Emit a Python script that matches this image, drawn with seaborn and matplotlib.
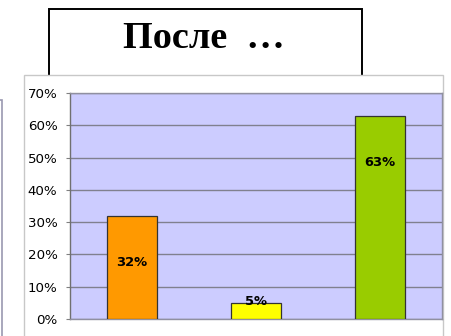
import matplotlib
matplotlib.use("Agg")
import matplotlib.pyplot as plt
from matplotlib.patches import Rectangle
import seaborn as sns
import pandas as pd

# Survey answers after the event, in percent
categories = ["A", "B", "C"]
values = [32, 5, 63]
bar_colors = ["#FF9900", "#FFFF00", "#99CC00"]
y_ticks = [0, 10, 20, 30, 40, 50, 60, 70]
y_tick_labels = [f"{t}%" for t in y_ticks]
title_text = "После  …"

df = pd.DataFrame({"category": categories, "value": values})

sns.set_theme(style="white")
plt.rcParams["font.family"] = ["DejaVu Sans"]
plt.rcParams["text.color"] = "black"

W, H = 452, 336
fig = plt.figure(figsize=(W / 100, H / 100), dpi=100)
fig.patch.set_facecolor("white")


def px_rect(x0, y0, x1, y1, **kw):
    # rectangle in pixel coords (origin top-left) on the figure
    return Rectangle((x0 / W, 1 - y1 / H), (x1 - x0) / W, (y1 - y0) / H,
                     transform=fig.transFigure, **kw)


# title box
fig.add_artist(px_rect(49, 9, 362, 110, facecolor="white", edgecolor="black",
                       linewidth=1.4, zorder=1))
fig.text(204 / W, 1 - 38 / H, title_text, ha="center", va="center",
         fontsize=27.5, fontweight="bold", color="black",
         family=["Liberation Serif", "DejaVu Serif"], zorder=2)

# neighbouring panel edge on the far left
fig.add_artist(px_rect(-20, 100, 2, 400, facecolor="white", edgecolor="#9A98B0",
                       linewidth=1.2, zorder=1))

# chart frame
fig.add_artist(px_rect(24, 75, 443, 400, facecolor="white", edgecolor="#C8C8C8",
                       linewidth=1.0, zorder=3))

ax = fig.add_axes([70 / W, 1 - 319 / H, (442 - 70) / W, (319 - 93) / H], zorder=4)
ax.set_facecolor("#CCCCFF")

sns.barplot(data=df, x="category", y="value", hue="category", palette=bar_colors,
            saturation=1, width=0.41, edgecolor="#333333", linewidth=0.9,
            legend=False, ax=ax, zorder=3)

ax.set_ylim(0, 70)
ax.set_xlim(-0.5, len(categories) - 0.5)
ax.set_yticks(y_ticks)
ax.set_yticklabels(y_tick_labels, fontsize=9.6, color="black")
ax.set_xticks([])
ax.set_xlabel("")
ax.set_ylabel("")
ax.yaxis.grid(True, color="#80808F", linewidth=1.0, zorder=1)
ax.set_axisbelow(True)
ax.tick_params(axis="y", length=3, width=0.8, color="#808080", pad=6, left=True)

for side in ["top", "right", "bottom"]:
    ax.spines[side].set_color("#9090A0")
    ax.spines[side].set_linewidth(1.0)
ax.spines["left"].set_color("#707070")
ax.spines["left"].set_linewidth(1.0)

# value labels
for i, v in enumerate(values):
    y = v - 14.5 if v > 20 else v + 0.3
    ax.text(i, y, f"{v}%", ha="center", va="center", fontsize=9.4,
            fontweight="bold", color="black", zorder=5)

fig.savefig("out.png", dpi=100, facecolor="white")
